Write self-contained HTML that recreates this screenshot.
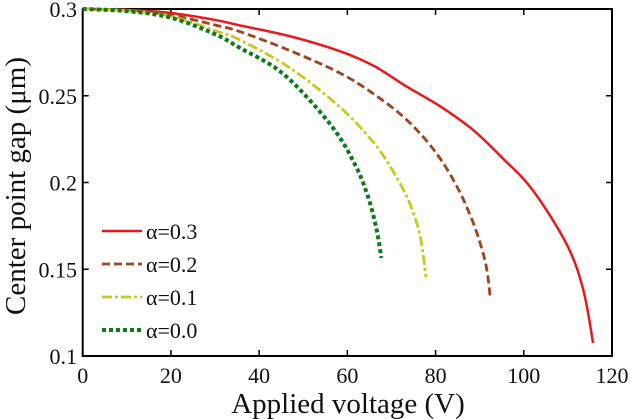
<!DOCTYPE html>
<html><head><meta charset="utf-8"><style>
body{margin:0;background:#fff}
svg{display:block}
text{font-family:"Liberation Serif",serif;fill:#111}
</style></head><body>
<svg id="chart" width="632" height="419" viewBox="0 0 632 419"></svg>
<script>
const xTicks=[0,20,40,60,80,100,120];
const yTicks=[0.1,0.15,0.2,0.25,0.3];
const yTickLabels=["0.1","0.15","0.2","0.25","0.3"];
const seriesNames=["α=0.3","α=0.2","α=0.1","α=0.0"];
const v03=[0,10,20,30,35.7,47,58.3,66,73.5,81,88.5,95,102,109.8,113.5,115.7];
const g03=[0.3,0.2995,0.2977,0.2937,0.2905,0.2843,0.2757,0.2672,0.2552,0.2440,0.2303,0.2145,0.1957,0.164,0.138,0.1075];
const v02=[0,10,20,30,35.7,47,58.3,66,73.5,80,84.9,88.5,90.8,91.8,92.4];
const g02=[0.3,0.2993,0.2965,0.2908,0.2869,0.276,0.2631,0.251,0.236,0.2175,0.1974,0.177,0.159,0.147,0.1334];
const v01=[0,10,20,30,35.7,47,58.3,65.8,70,73.5,75.8,77,77.8];
const g01=[0.3,0.2991,0.2958,0.2875,0.2821,0.266,0.2435,0.2235,0.208,0.1917,0.176,0.162,0.1455];
const v00=[0,10,20,30,35.7,44,50.8,57.6,62,64.4,66,67,67.7];
const g00=[0.3,0.2988,0.295,0.2855,0.2775,0.2655,0.2493,0.2285,0.209,0.194,0.180,0.168,0.1565];
const X=v=>82.7+v*(612-82.7)/120;
const Y=g=>9+(0.3-g)/0.2*347;
const svg=document.getElementById('chart');
const NS='http://www.w3.org/2000/svg';
function mk(tag,attrs,parent){const e=document.createElementNS(NS,tag);for(const k in attrs)e.setAttribute(k,attrs[k]);(parent||svg).appendChild(e);return e;}
const frame=mk('rect',{x:X(0),y:Y(0.3),width:X(120)-X(0),height:Y(0.1)-Y(0.3),fill:'none',stroke:'#000','stroke-width':2});


xTicks.forEach(t=>{
  const l=mk('line',{x1:X(t),x2:X(t),y1:Y(0.1),y2:Y(0.1)-6,stroke:'#000','stroke-width':1.5});
  
  
  mk('line',{x1:X(t),x2:X(t),y1:Y(0.3),y2:Y(0.3)+6,stroke:'#000','stroke-width':1.5});
  const tx=mk('text',{x:X(t),y:383,'text-anchor':'middle','font-size':22});
  tx.textContent=t;
  
  
});
yTicks.forEach((t,i)=>{
  const l=mk('line',{x1:X(0),x2:X(0)+6,y1:Y(t),y2:Y(t),stroke:'#000','stroke-width':1.5});
  
  
  mk('line',{x1:X(120),x2:X(120)-6,y1:Y(t),y2:Y(t),stroke:'#000','stroke-width':1.5});
  const tx=mk('text',{x:77,y:Y(t)+8,'text-anchor':'end','font-size':22});
  tx.textContent=yTickLabels[i];
  
  
});
const xt=mk('text',{x:348,y:413,'text-anchor':'middle','font-size':29});
xt.textContent='Applied voltage (V)';


const yt=mk('text',{x:0,y:0,'text-anchor':'middle','font-size':29,transform:'translate(25,186) rotate(-90)'});
yt.textContent='Center point gap (μm)';


function pathD(xs,ys){
  const p=xs.map((v,i)=>[X(v),Y(ys[i])]);
  let d='M'+p[0][0]+','+p[0][1];
  for(let i=0;i<p.length-1;i++){
    const p0=p[Math.max(i-1,0)],p1=p[i],p2=p[i+1],p3=p[Math.min(i+2,p.length-1)];
    const c1=[p1[0]+(p2[0]-p0[0])/6,p1[1]+(p2[1]-p0[1])/6];
    const c2=[p2[0]-(p3[0]-p1[0])/6,p2[1]-(p3[1]-p1[1])/6];
    d+=' C'+c1+' '+c2+' '+p2;
  }
  return d;
}
const styles=[
  {c:'#e8191b',dash:'',w:2.5},
  {c:'#a0421a',dash:'8,4',w:2.8},
  {c:'#c8c820',dash:'10,3,3,3',w:2.8},
  {c:'#0f7a1a',dash:'4,3',w:4}
];
const data=[[v03,g03],[v02,g02],[v01,g01],[v00,g00]];
const seriesSlugs=['series-alpha-0-3','series-alpha-0-2','series-alpha-0-1','series-alpha-0-0'];
data.forEach((s,i)=>{
  const p=mk('path',{d:pathD(s[0],s[1]),fill:'none',stroke:styles[i].c,'stroke-width':styles[i].w,'stroke-dasharray':styles[i].dash});
  
  
});
const legendY=[231,264,297,330];
seriesNames.forEach((n,i)=>{
  const g=mk('g',{});
  
  
  mk('line',{x1:102,x2:142,y1:legendY[i],y2:legendY[i],stroke:styles[i].c,'stroke-width':styles[i].w,'stroke-dasharray':styles[i].dash},g);
  const t=mk('text',{x:146,y:legendY[i]+8,'font-size':22},g);
  t.textContent=n;
});
</script>
</body></html>
